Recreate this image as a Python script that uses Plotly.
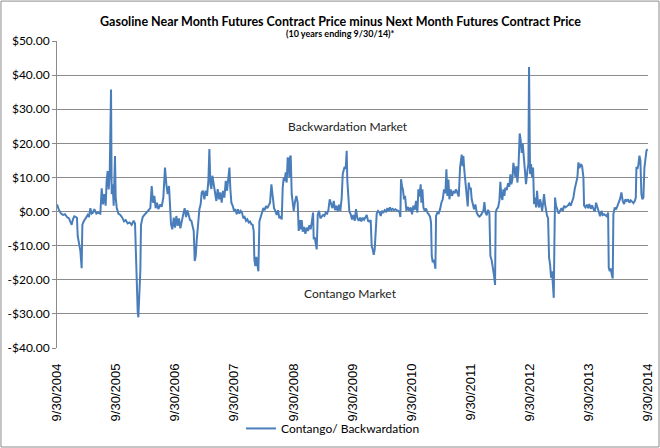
import pandas as pd
import plotly.graph_objects as go

# years after 9/30/2004
t_years = [
    # 2004 - 2006
    0.000, 0.034, 0.068, 0.102, 0.135, 0.169, 0.203, 0.226, 0.248, 0.271,
    0.293, 0.321, 0.338, 0.350, 0.372, 0.395, 0.417, 0.429, 0.451, 0.474,
    0.496, 0.519, 0.541, 0.564, 0.587, 0.609, 0.632, 0.666, 0.699, 0.733,
    0.756, 0.778, 0.801, 0.823, 0.840, 0.857, 0.874, 0.891, 0.914, 0.925,
    0.942, 0.959, 0.981, 0.993, 1.010, 1.038, 1.072, 1.105, 1.134, 1.162,
    1.196, 1.230, 1.263, 1.297, 1.320, 1.337, 1.348, 1.365, 1.376, 1.393,
    1.410, 1.421, 1.450, 1.478, 1.512, 1.545, 1.579, 1.602, 1.624, 1.647,
    1.669, 1.692, 1.715, 1.748, 1.771, 1.799, 1.827, 1.850, 1.872, 1.895,
    # 2006 - 2008
    1.929, 1.951, 1.975, 1.997, 2.019, 2.042, 2.064, 2.087, 2.115, 2.138,
    2.160, 2.183, 2.206, 2.228, 2.251, 2.273, 2.296, 2.313, 2.330, 2.347,
    2.363, 2.386, 2.409, 2.431, 2.448, 2.470, 2.493, 2.516, 2.538, 2.561,
    2.578, 2.595, 2.612, 2.629, 2.651, 2.674, 2.696, 2.719, 2.742, 2.764,
    2.786, 2.809, 2.832, 2.855, 2.877, 2.900, 2.917, 2.933, 2.950, 2.973,
    2.995, 3.017, 3.040, 3.063, 3.085, 3.108, 3.130, 3.153, 3.175, 3.198,
    3.220, 3.243, 3.266, 3.288, 3.311, 3.328, 3.339, 3.356, 3.373, 3.390,
    3.407, 3.424, 3.446, 3.469, 3.491, 3.514, 3.536, 3.559, 3.581, 3.604,
    3.627, 3.649, 3.672, 3.694, 3.717, 3.740, 3.762, 3.785, 3.802, 3.819,
    3.836, 3.852, 3.869, 3.886, 3.903, 3.920, 3.931, 3.942, 3.954, 3.971,
    # 2008 - 2010
    4.005, 4.027, 4.050, 4.072, 4.089, 4.106, 4.123, 4.140, 4.157, 4.179,
    4.202, 4.225, 4.247, 4.270, 4.292, 4.315, 4.332, 4.343, 4.360, 4.377,
    4.394, 4.411, 4.433, 4.456, 4.479, 4.501, 4.524, 4.546, 4.569, 4.591,
    4.614, 4.636, 4.659, 4.682, 4.704, 4.727, 4.749, 4.772, 4.794, 4.817,
    4.834, 4.851, 4.867, 4.884, 4.901, 4.912, 4.929, 4.946, 4.969, 4.991,
    5.014, 5.037, 5.059, 5.082, 5.104, 5.127, 5.149, 5.172, 5.195, 5.217,
    5.240, 5.262, 5.285, 5.307, 5.324, 5.341, 5.358, 5.375, 5.392, 5.409,
    5.431, 5.454, 5.477, 5.499, 5.521, 5.544, 5.567, 5.589, 5.612, 5.634,
    5.657, 5.680, 5.702, 5.725, 5.747, 5.770, 5.792, 5.809, 5.820, 5.837,
    5.854, 5.871, 5.888, 5.911, 5.933,
    # 2010 - 2012
    5.962, 5.984, 6.007, 6.029, 6.052, 6.075, 6.097, 6.114, 6.131, 6.153,
    6.165, 6.182, 6.199, 6.221, 6.244, 6.266, 6.289, 6.311, 6.328, 6.340,
    6.357, 6.373, 6.390, 6.402, 6.413, 6.435, 6.458, 6.481, 6.503, 6.526,
    6.548, 6.571, 6.588, 6.605, 6.622, 6.639, 6.661, 6.684, 6.707, 6.729,
    6.752, 6.774, 6.797, 6.819, 6.836, 6.847, 6.864, 6.875, 6.892, 6.909,
    6.932, 6.949, 6.966, 6.983, 7.000, 7.016, 7.033, 7.056, 7.078, 7.101,
    7.124, 7.146, 7.169, 7.191, 7.214, 7.231, 7.248, 7.270, 7.293, 7.315,
    7.332, 7.355, 7.372, 7.394, 7.411, 7.422, 7.439, 7.462, 7.484, 7.501,
    7.518, 7.535, 7.552, 7.569, 7.586, 7.608, 7.631, 7.653, 7.670, 7.687,
    7.704, 7.721, 7.738, 7.755, 7.772, 7.789, 7.806, 7.817, 7.828, 7.845,
    7.862, 7.879, 7.896,
    # 2012 - 2014
    7.907, 7.924, 7.935, 7.958, 7.975, 7.986, 8.003, 8.020, 8.037, 8.054,
    8.071, 8.088, 8.105, 8.122, 8.139, 8.156, 8.173, 8.190, 8.207, 8.224,
    8.240, 8.257, 8.274, 8.291, 8.308, 8.325, 8.342, 8.359, 8.376, 8.393,
    8.404, 8.415, 8.426, 8.443, 8.466, 8.488, 8.511, 8.534, 8.556, 8.579,
    8.601, 8.624, 8.646, 8.669, 8.691, 8.714, 8.737, 8.759, 8.782, 8.804,
    8.821, 8.838, 8.861, 8.883, 8.906, 8.917, 8.940, 8.962, 8.985, 9.007,
    9.030, 9.052, 9.075, 9.098, 9.120, 9.143, 9.165, 9.188, 9.211, 9.233,
    9.256, 9.278, 9.301, 9.324, 9.335, 9.352, 9.368, 9.385, 9.402, 9.413,
    9.436, 9.459, 9.481, 9.504, 9.526, 9.549, 9.571, 9.594, 9.617, 9.639,
    9.662, 9.684, 9.707, 9.730, 9.752, 9.775, 9.792, 9.803, 9.820, 9.837,
    9.854, 9.870, 9.887, 9.904, 9.921, 9.938, 9.955, 9.972, 9.990,
]

# near month minus next month, $ per barrel
spread = [
    2.1, 0.4, -0.6, -1.0, -0.8, -1.6, -2.0, -3.2, -3.9, -2.2,
    -1.4, -1.6, -1.8, -7.1, -9.6, -11.5, -16.6, -3.9, -2.9, -2.2,
    -1.8, -1.0, -1.6, 1.0, -0.6, -0.3, 0.7, -0.6, -0.3, -0.6,
    6.8, 2.1, 5.1, 1.7, 9.0, 11.9, 6.5, 10.4, 35.8, 5.1,
    8.0, 1.7, 16.3, 4.1, 1.2, -0.6, -1.0, -1.8, -2.9, -2.5,
    -3.5, -3.2, -3.9, -2.7, -3.5, -13.5, -23.2, -29.1, -31.0, -25.2,
    -17.4, -3.9, -1.6, -1.0, -0.3, 0.4, 1.0, 7.5, 2.6, 4.6,
    1.0, 2.6, 0.7, 2.1, 1.4, 4.1, 12.9, 8.0, 5.1, 7.5,
    -3.7, -5.2, -1.8, -4.7, -1.3, -4.2, -2.0, -4.9, -2.0, -0.6,
    1.0, -1.6, 0.4, -0.8, -2.5, -2.7, -4.2, -5.7, -14.5, -13.0,
    -8.6, -3.7, 0.7, 2.2, 5.6, 6.1, 3.6, 6.1, 4.6, 9.0,
    18.3, 8.0, 6.6, 10.5, 7.5, 4.6, 3.1, 6.6, 3.6, 5.6,
    2.6, 6.1, 4.1, 9.0, 6.1, 10.0, 12.9, 6.6, 2.6, 1.7,
    0.2, 0.7, -0.8, 0.7, -0.6, 0.2, -0.3, -2.0, -1.6, -2.7,
    -2.3, -3.2, -2.9, -3.7, -3.9, -5.7, -14.0, -16.0, -13.3, -15.5,
    -17.5, -2.9, -1.6, 0.2, 1.0, 0.4, 1.6, 1.0, 2.0, 2.6,
    8.0, 4.1, 1.0, 0.2, -1.0, 0.4, -2.0, -1.3, -2.3, 7.1,
    10.0, 9.0, 11.5, 8.5, 15.9, 14.4, 10.0, 15.9, 16.4, 5.1,
    0.2, 2.9, 4.6, 2.6, -5.7, -2.5, -5.2, -2.5, -5.9, -4.5,
    -6.5, -4.7, -5.7, -4.0, -5.2, -2.5, -0.3, -8.1, -7.5, -9.4,
    -11.1, -1.0, 0.2, -2.0, -1.6, -1.0, -1.3, -0.3, -0.6, 0.4,
    3.6, 2.6, 1.0, 3.1, 0.4, 1.7, 0.0, 2.0, 0.2, 4.1,
    11.0, 12.2, 13.1, 12.5, 17.8, 9.0, 2.9, 0.0, -0.8, -2.3,
    -1.0, -2.7, 0.7, -2.0, -2.7, -1.8, -2.9, -1.8, -2.4, -1.6,
    -1.0, -2.7, -2.9, -2.5, -10.1, -11.1, -12.7, -11.1, -5.7, -0.6,
    0.2, -0.2, -1.3, 0.2, -0.4, 0.4, 0.0, 1.0, 0.2, 1.2,
    0.4, 0.8, 0.4, 0.7, 0.4, 0.2, 0.0, -1.6, 9.5, 7.5,
    6.3, 3.6, 4.6, 0.2, 1.4,
    0.2, 1.2, -0.8, 1.7, 0.5, 3.1, -0.3, 6.5, 4.4, 8.0,
    2.6, 6.5, 1.2, 0.2, 0.9, -0.3, -0.8, -1.5, -3.2, -13.0,
    -14.9, -14.1, -15.4, -16.8, -1.3, -0.3, -0.5, 0.7, 2.6, 3.6,
    6.5, 5.4, 12.4, 4.6, 9.4, 3.6, 6.5, 4.6, 6.0, 5.4,
    6.5, 5.5, 4.4, 12.9, 15.3, 16.7, 13.3, 16.3, 11.9, 9.4,
    4.6, 1.5, 8.5, 6.5, 7.0, 3.6, 2.4, 0.7, 2.1, -0.3,
    -1.1, -1.5, -1.1, -0.3, 0.2, 2.8, -0.3, -1.1, 0.5, -0.5,
    -13.0, -14.4, -16.1, -18.8, -21.5, -0.3, 0.7, 1.2, 3.1, 8.7,
    4.4, 3.4, 6.5, 4.6, 7.0, 6.3, 8.3, 7.3, 10.9, 8.0,
    9.4, 14.3, 12.2, 10.2, 13.3, 8.5, 12.4, 16.3, 22.9, 20.9,
    17.2, 20.0, 16.3,
    13.9, 12.0, 8.0, 12.0, 13.9, 42.4, 11.0, 13.9, 10.0, 12.9,
    2.2, 4.1, 1.2, 6.1, 2.2, 1.2, 3.6, 2.2, 0.2, 2.4,
    5.1, 2.2, 0.2, -1.3, -1.8, -13.5, -15.5, -19.4, -17.5, -23.3,
    -25.3, -9.6, 4.1, 1.7, 0.7, -0.6, 0.2, 1.0, 0.2, 1.7,
    1.2, 1.4, 1.8, 2.4, 1.7, 2.9, 4.1, 6.6, 8.0, 10.0,
    14.4, 12.7, 13.9, 13.4, 10.0, 1.7, 1.2, 2.0, 1.0, 2.2,
    0.8, 1.8, 0.8, 0.0, 2.6, 1.0, -0.3, -1.4, 0.2, -1.0,
    -0.8, -1.0, -1.4, -0.3, -16.5, -17.5, -16.7, -18.4, -19.6, -0.8,
    1.2, 0.6, 1.7, 3.1, 3.7, 5.6, 3.1, 2.2, 3.6, 3.1,
    3.6, 2.6, 3.3, 2.9, 2.5, 3.1, 4.1, 13.1, 12.5, 13.9,
    16.4, 14.9, 5.1, 3.6, 4.1, 12.9, 14.9, 17.8, 18.3,
]

tick_dates = ["2004-09-30", "2005-09-30", "2006-09-30", "2007-09-30",
              "2008-09-30", "2009-09-30", "2010-09-30", "2011-09-30",
              "2012-09-30", "2013-09-30", "2014-09-30"]
tick_text = ["9/30/2004", "9/30/2005", "9/30/2006", "9/30/2007",
             "9/30/2008", "9/30/2009", "9/30/2010", "9/30/2011",
             "9/30/2012", "9/30/2013", "9/30/2014"]
y_vals = [50, 40, 30, 20, 10, 0, -10, -20, -30, -40]
y_text = ["$50.00", "$40.00", "$30.00", "$20.00", "$10.00", "$0.00",
          "-$10.00", "-$20.00", "-$30.00", "-$40.00"]

dates = pd.Timestamp("2004-09-30") + pd.to_timedelta(
    [t * 365.25 for t in t_years], unit="D")

fig = go.Figure()
fig.add_trace(go.Scatter(
    x=dates, y=spread, mode="lines", name="Contango/ Backwardation",
    line=dict(color="#4A7EBB", width=2)
))

grid = "#8C8C8C"
fig.update_layout(
    width=660, height=448,
    margin=dict(l=57, r=12, t=41, b=100, autoexpand=False),
    paper_bgcolor="white", plot_bgcolor="white",
    font=dict(family="Lato, Arial, sans-serif", color="#000000"),
    showlegend=True,
    legend=dict(orientation="h", x=0.467, y=-0.262, xanchor="center",
                yanchor="middle", font=dict(size=12), bgcolor="rgba(0,0,0,0)"),
    xaxis=dict(
        type="date", range=["2004-09-30", "2014-09-30"],
        tickvals=tick_dates, ticktext=tick_text, tickangle=-90,
        tickfont=dict(family="Liberation Sans, Arial", size=13),
        showgrid=False, showline=False, zeroline=False, ticks="",
        ticklabelstandoff=12, automargin=False,
    ),
    yaxis=dict(
        range=[-40, 50], tickvals=y_vals, ticktext=y_text,
        tickfont=dict(size=12), showgrid=True, gridcolor=grid, gridwidth=1,
        zeroline=False, showline=True, linecolor=grid, linewidth=1,
        ticks="outside", ticklen=4, tickcolor=grid, automargin=False,
    ),
)

# titles and market labels
fig.add_annotation(x=0.479, y=1.065, xref="paper", yref="paper", yanchor="middle",
                   text="<b>Gasoline Near Month Futures Contract Price minus Next Month Futures Contract Price</b>",
                   showarrow=False, font=dict(size=12.5))
fig.add_annotation(x=0.479, y=1.023, xref="paper", yref="paper", yanchor="middle",
                   text="<b>(10 years ending 9/30/14)*</b>",
                   showarrow=False, font=dict(size=9))
fig.add_annotation(x=0.492, y=25, xref="paper", yref="y",
                   text="Backwardation Market", showarrow=False,
                   font=dict(size=12, color="#222222"))
fig.add_annotation(x=0.496, y=-24, xref="paper", yref="y",
                   text="Contango Market", showarrow=False,
                   font=dict(size=12, color="#222222"))

# chart border
fig.add_shape(type="rect", xref="paper", yref="paper",
              x0=-0.0948, x1=1.0186, y0=-0.3225, y1=1.130,
              line=dict(color="#8C8C8C", width=1))

# drop the browser's default page margin so the chart sits at the corner
fig.write_html("out.html", config={"displayModeBar": False},
               post_script="document.body.style.margin='0';")
